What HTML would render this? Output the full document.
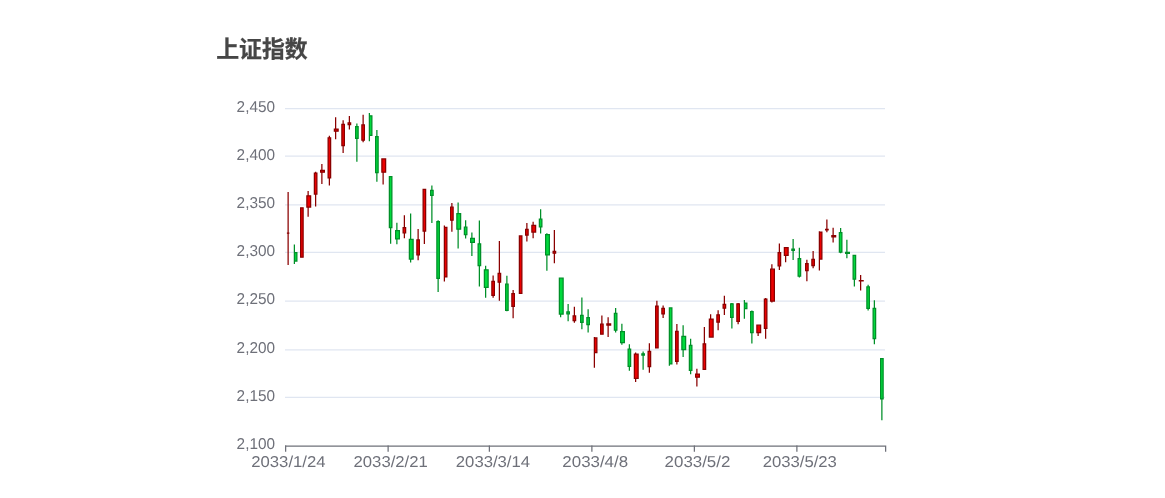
<!DOCTYPE html>
<html lang="zh"><head><meta charset="utf-8"><title>上证指数</title>
<style>
html,body{margin:0;padding:0;background:#fff;}
body{width:1165px;height:498px;overflow:hidden;position:relative;}
svg{position:absolute;left:0;top:0;display:block;}
.lb{font-family:"Liberation Sans","Noto Sans CJK SC",sans-serif;font-size:12.6px;text-rendering:geometricPrecision;fill:#6E7079;}
.tt{font-family:"Liberation Sans","Noto Sans CJK SC",sans-serif;font-size:18.3px;font-weight:bold;fill:#464646;stroke:#464646;stroke-width:0.2px;}
</style></head><body>
<svg width="1165" height="498" viewBox="0 0 1165 498">
<g transform="translate(210 33) scale(1.25)">
<line x1="60" x2="540" y1="291.5" y2="291.5" stroke="#E0E6F1" stroke-width="1"/>
<line x1="60" x2="540" y1="253.5" y2="253.5" stroke="#E0E6F1" stroke-width="1"/>
<line x1="60" x2="540" y1="214.5" y2="214.5" stroke="#E0E6F1" stroke-width="1"/>
<line x1="60" x2="540" y1="175.5" y2="175.5" stroke="#E0E6F1" stroke-width="1"/>
<line x1="60" x2="540" y1="137.5" y2="137.5" stroke="#E0E6F1" stroke-width="1"/>
<line x1="60" x2="540" y1="98.5" y2="98.5" stroke="#E0E6F1" stroke-width="1"/>
<line x1="60" x2="540" y1="60.5" y2="60.5" stroke="#E0E6F1" stroke-width="1"/>
<path d="M61.5 160.085L63.5 160.085L63.5 160.085L61.5 160.085ZM62.5 127.161L62.5 160.085M62.5 185.511L62.5 160.085" fill="#ec0000" stroke="#8A0000" stroke-width="1"/>
<path d="M67.5 175.714L69.5 175.714L69.5 182.426L67.5 182.426ZM67.5 169.25L67.5 175.714M67.5 184.771L67.5 182.426" fill="#00da3c" stroke="#008F28" stroke-width="1"/>
<path d="M72.5 139.843L74.5 139.843L74.5 179.301L72.5 179.301ZM73.5 139.519L73.5 139.843M73.5 179.301L73.5 179.301" fill="#ec0000" stroke="#8A0000" stroke-width="1"/>
<path d="M77.5 130.215L80.5 130.215L80.5 139.287L77.5 139.287ZM78.5 126.497L78.5 130.215M78.5 146.901L78.5 139.287" fill="#ec0000" stroke="#8A0000" stroke-width="1"/>
<path d="M83.5 112.087L85.5 112.087L85.5 128.85L83.5 128.85ZM84.5 111.099L84.5 112.087M84.5 138.771L84.5 128.85" fill="#ec0000" stroke="#8A0000" stroke-width="1"/>
<path d="M88.5 109.819L91.5 109.819L91.5 111.354L88.5 111.354ZM89.5 104.882L89.5 109.819M89.5 120.765L89.5 111.354" fill="#ec0000" stroke="#8A0000" stroke-width="1"/>
<path d="M94.5 83.899L96.5 83.899L96.5 115.998L94.5 115.998ZM95.5 82.256L95.5 83.899M95.5 122.046L95.5 115.998" fill="#ec0000" stroke="#8A0000" stroke-width="1"/>
<path d="M99.5 76.856L102.5 76.856L102.5 78.576L99.5 78.576ZM100.5 67.421L100.5 76.856M100.5 85.01L100.5 78.576" fill="#ec0000" stroke="#8A0000" stroke-width="1"/>
<path d="M105.5 73.014L107.5 73.014L107.5 90.086L105.5 90.086ZM106.5 69.705L106.5 73.014M106.5 96.026L106.5 90.086" fill="#ec0000" stroke="#8A0000" stroke-width="1"/>
<path d="M110.5 71.973L112.5 71.973L112.5 73.361L110.5 73.361ZM111.5 66.38L111.5 71.973M111.5 77.203L111.5 73.361" fill="#ec0000" stroke="#8A0000" stroke-width="1"/>
<path d="M116.5 74.896L118.5 74.896L118.5 84.277L116.5 84.277ZM117.5 72.428L117.5 74.896M117.5 103.03L117.5 84.277" fill="#00da3c" stroke="#008F28" stroke-width="1"/>
<path d="M121.5 73.577L123.5 73.577L123.5 85.75L121.5 85.75ZM122.5 65.377L122.5 73.577M122.5 87.463L122.5 85.75" fill="#ec0000" stroke="#8A0000" stroke-width="1"/>
<path d="M127.5 66.241L129.5 66.241L129.5 81.939L127.5 81.939ZM127.5 64.011L127.5 66.241M127.5 86.668L127.5 81.939" fill="#00da3c" stroke="#008F28" stroke-width="1"/>
<path d="M132.5 82.942L134.5 82.942L134.5 111.755L132.5 111.755ZM133.5 77.689L133.5 82.942M133.5 118.991L133.5 111.755" fill="#00da3c" stroke="#008F28" stroke-width="1"/>
<path d="M137.5 100.747L140.5 100.747L140.5 111.308L137.5 111.308ZM138.5 100.161L138.5 100.747M138.5 121.244L138.5 111.308" fill="#ec0000" stroke="#8A0000" stroke-width="1"/>
<path d="M143.5 114.91L145.5 114.91L145.5 155.696L143.5 155.696ZM144.5 114.91L144.5 114.91M144.5 168.64L144.5 155.696" fill="#00da3c" stroke="#008F28" stroke-width="1"/>
<path d="M148.5 158.018L151.5 158.018L151.5 164.791L148.5 164.791ZM149.5 151.893L149.5 158.018M149.5 168.957L149.5 164.791" fill="#00da3c" stroke="#008F28" stroke-width="1"/>
<path d="M154.5 155.796L156.5 155.796L156.5 159.807L154.5 159.807ZM155.5 145.798L155.5 155.796M155.5 164.135L155.5 159.807" fill="#ec0000" stroke="#8A0000" stroke-width="1"/>
<path d="M159.5 165.115L162.5 165.115L162.5 180.852L159.5 180.852ZM160.5 144.309L160.5 165.115M160.5 183.513L160.5 180.852" fill="#00da3c" stroke="#008F28" stroke-width="1"/>
<path d="M165.5 165.516L167.5 165.516L167.5 177.435L165.5 177.435ZM166.5 156.714L166.5 165.516M166.5 181.863L166.5 177.435" fill="#ec0000" stroke="#8A0000" stroke-width="1"/>
<path d="M170.5 125.116L172.5 125.116L172.5 158.496L170.5 158.496ZM171.5 124.677L171.5 125.116M171.5 168.833L171.5 158.496" fill="#ec0000" stroke="#8A0000" stroke-width="1"/>
<path d="M176.5 125.926L178.5 125.926L178.5 129.807L176.5 129.807ZM177.5 121.984L177.5 125.926M177.5 151.908L177.5 129.807" fill="#00da3c" stroke="#008F28" stroke-width="1"/>
<path d="M181.5 150.967L183.5 150.967L183.5 196.234L181.5 196.234ZM182.5 149.841L182.5 150.967M182.5 207.15L182.5 196.234" fill="#00da3c" stroke="#008F28" stroke-width="1"/>
<path d="M187.5 155.418L189.5 155.418L189.5 195.147L187.5 195.147ZM187.5 154.006L187.5 155.418M187.5 198.78L187.5 195.147" fill="#ec0000" stroke="#8A0000" stroke-width="1"/>
<path d="M192.5 139.318L194.5 139.318L194.5 149.787L192.5 149.787ZM193.5 136.032L193.5 139.318M193.5 159.051L193.5 149.787" fill="#ec0000" stroke="#8A0000" stroke-width="1"/>
<path d="M197.5 144.518L200.5 144.518L200.5 156.976L197.5 156.976ZM198.5 135.585L198.5 144.518M198.5 172.42L198.5 156.976" fill="#00da3c" stroke="#008F28" stroke-width="1"/>
<path d="M203.5 155.333L205.5 155.333L205.5 161.358L203.5 161.358ZM204.5 149.74L204.5 155.333M204.5 164.459L204.5 161.358" fill="#00da3c" stroke="#008F28" stroke-width="1"/>
<path d="M208.5 164.39L211.5 164.39L211.5 167.545L208.5 167.545ZM209.5 159.545L209.5 164.39M209.5 178.353L209.5 167.545" fill="#00da3c" stroke="#008F28" stroke-width="1"/>
<path d="M214.5 168.648L216.5 168.648L216.5 186.051L214.5 186.051ZM215.5 150.033L215.5 168.648M215.5 202.845L215.5 186.051" fill="#00da3c" stroke="#008F28" stroke-width="1"/>
<path d="M219.5 189.469L222.5 189.469L222.5 203.509L219.5 203.509ZM220.5 186.26L220.5 189.469M220.5 211.779L220.5 203.509" fill="#00da3c" stroke="#008F28" stroke-width="1"/>
<path d="M225.5 198.641L227.5 198.641L227.5 209.835L225.5 209.835ZM226.5 194.059L226.5 198.641M226.5 211.732L226.5 209.835" fill="#ec0000" stroke="#8A0000" stroke-width="1"/>
<path d="M230.5 192.377L232.5 192.377L232.5 199.389L230.5 199.389ZM231.5 166.395L231.5 192.377M231.5 214.286L231.5 199.389" fill="#ec0000" stroke="#8A0000" stroke-width="1"/>
<path d="M236.5 200.948L238.5 200.948L238.5 221.985L236.5 221.985ZM237.5 194.19L237.5 200.948M237.5 222.609L237.5 221.985" fill="#00da3c" stroke="#008F28" stroke-width="1"/>
<path d="M241.5 208.554L243.5 208.554L243.5 218.714L241.5 218.714ZM242.5 205.561L242.5 208.554M242.5 228.156L242.5 218.714" fill="#ec0000" stroke="#8A0000" stroke-width="1"/>
<path d="M247.5 162.315L249.5 162.315L249.5 208.315L247.5 208.315ZM247.5 161.937L247.5 162.315M247.5 208.562L247.5 208.315" fill="#ec0000" stroke="#8A0000" stroke-width="1"/>
<path d="M252.5 157.015L254.5 157.015L254.5 161.667L252.5 161.667ZM253.5 151.947L253.5 157.015M253.5 166.766L253.5 161.667" fill="#ec0000" stroke="#8A0000" stroke-width="1"/>
<path d="M257.5 153.898L260.5 153.898L260.5 159.206L257.5 159.206ZM258.5 151.029L258.5 153.898M258.5 164.166L258.5 159.206" fill="#ec0000" stroke="#8A0000" stroke-width="1"/>
<path d="M263.5 148.915L265.5 148.915L265.5 155.102L263.5 155.102ZM264.5 141.085L264.5 148.915M264.5 160.355L264.5 155.102" fill="#00da3c" stroke="#008F28" stroke-width="1"/>
<path d="M268.5 161.381L271.5 161.381L271.5 177.512L268.5 177.512ZM269.5 160.293L269.5 161.381M269.5 190.279L269.5 177.512" fill="#00da3c" stroke="#008F28" stroke-width="1"/>
<path d="M274.5 174.742L276.5 174.742L276.5 176.193L274.5 176.193ZM275.5 157.601L275.5 174.742M275.5 184.2L275.5 176.193" fill="#ec0000" stroke="#8A0000" stroke-width="1"/>
<path d="M279.5 196.119L282.5 196.119L282.5 224.854L279.5 224.854ZM280.5 196.119L280.5 196.119M280.5 227.469L280.5 224.854" fill="#00da3c" stroke="#008F28" stroke-width="1"/>
<path d="M285.5 223.165L287.5 223.165L287.5 224.607L285.5 224.607ZM286.5 216.7L286.5 223.165M286.5 230.632L286.5 224.607" fill="#00da3c" stroke="#008F28" stroke-width="1"/>
<path d="M290.5 226.32L292.5 226.32L292.5 230.131L290.5 230.131ZM291.5 218.953L291.5 226.32M291.5 231.789L291.5 230.131" fill="#ec0000" stroke="#8A0000" stroke-width="1"/>
<path d="M296.5 225.934L298.5 225.934L298.5 231.458L296.5 231.458ZM297.5 211.647L297.5 225.934M297.5 237.089L297.5 231.458" fill="#00da3c" stroke="#008F28" stroke-width="1"/>
<path d="M301.5 227.639L303.5 227.639L303.5 233.348L301.5 233.348ZM302.5 220.966L302.5 227.639M302.5 239.55L302.5 233.348" fill="#00da3c" stroke="#008F28" stroke-width="1"/>
<path d="M307.5 243.916L309.5 243.916L309.5 255.758L307.5 255.758ZM307.5 243.145L307.5 243.916M307.5 267.769L307.5 255.758" fill="#ec0000" stroke="#8A0000" stroke-width="1"/>
<path d="M312.5 232.977L314.5 232.977L314.5 240.923L312.5 240.923ZM313.5 226.065L313.5 232.977M313.5 240.923L313.5 240.923" fill="#ec0000" stroke="#8A0000" stroke-width="1"/>
<path d="M317.5 232.7L320.5 232.7L320.5 233.625L317.5 233.625ZM318.5 227.369L318.5 232.7M318.5 243.168L318.5 233.625" fill="#ec0000" stroke="#8A0000" stroke-width="1"/>
<path d="M323.5 224.33L325.5 224.33L325.5 237.776L323.5 237.776ZM324.5 220.087L324.5 224.33M324.5 239.542L324.5 237.776" fill="#00da3c" stroke="#008F28" stroke-width="1"/>
<path d="M328.5 238.902L331.5 238.902L331.5 247.627L328.5 247.627ZM329.5 232.599L329.5 238.902M329.5 249.432L329.5 247.627" fill="#00da3c" stroke="#008F28" stroke-width="1"/>
<path d="M334.5 252.927L336.5 252.927L336.5 266.789L334.5 266.789ZM335.5 249.008L335.5 252.927M335.5 270.299L335.5 266.789" fill="#00da3c" stroke="#008F28" stroke-width="1"/>
<path d="M339.5 256.83L342.5 256.83L342.5 276.285L339.5 276.285ZM340.5 255.611L340.5 256.83M340.5 279.255L340.5 276.285" fill="#ec0000" stroke="#8A0000" stroke-width="1"/>
<path d="M345.5 256.691L347.5 256.691L347.5 257.64L345.5 257.64ZM346.5 254.778L346.5 256.691M346.5 269.466L346.5 257.64" fill="#00da3c" stroke="#008F28" stroke-width="1"/>
<path d="M350.5 254.709L352.5 254.709L352.5 266.882L350.5 266.882ZM351.5 248.205L351.5 254.709M351.5 271.803L351.5 266.882" fill="#ec0000" stroke="#8A0000" stroke-width="1"/>
<path d="M356.5 218.421L358.5 218.421L358.5 251.993L356.5 251.993ZM357.5 214.201L357.5 218.421M357.5 252.41L357.5 251.993" fill="#ec0000" stroke="#8A0000" stroke-width="1"/>
<path d="M361.5 220.326L363.5 220.326L363.5 224.777L361.5 224.777ZM362.5 218.05L362.5 220.326M362.5 227.971L362.5 224.777" fill="#ec0000" stroke="#8A0000" stroke-width="1"/>
<path d="M367.5 219.979L369.5 219.979L369.5 264.783L367.5 264.783ZM367.5 219.979L367.5 219.979M367.5 266.118L367.5 264.783" fill="#00da3c" stroke="#008F28" stroke-width="1"/>
<path d="M372.5 238.725L374.5 238.725L374.5 262.616L372.5 262.616ZM373.5 232.707L373.5 238.725M373.5 265.115L373.5 262.616" fill="#ec0000" stroke="#8A0000" stroke-width="1"/>
<path d="M377.5 242.682L380.5 242.682L380.5 253.389L377.5 253.389ZM378.5 233.857L378.5 242.682M378.5 259.144L378.5 253.389" fill="#00da3c" stroke="#008F28" stroke-width="1"/>
<path d="M383.5 249.856L385.5 249.856L385.5 269.898L383.5 269.898ZM384.5 244.695L384.5 249.856M384.5 273.022L384.5 269.898" fill="#00da3c" stroke="#008F28" stroke-width="1"/>
<path d="M388.5 272.822L391.5 272.822L391.5 275.398L388.5 275.398ZM389.5 268.556L389.5 272.822M389.5 282.835L389.5 275.398" fill="#ec0000" stroke="#8A0000" stroke-width="1"/>
<path d="M394.5 248.614L396.5 248.614L396.5 269.019L394.5 269.019ZM395.5 235.261L395.5 248.614M395.5 269.019L395.5 269.019" fill="#ec0000" stroke="#8A0000" stroke-width="1"/>
<path d="M399.5 228.812L402.5 228.812L402.5 243.214L399.5 243.214ZM400.5 225.032L400.5 228.812M400.5 243.214L400.5 243.214" fill="#ec0000" stroke="#8A0000" stroke-width="1"/>
<path d="M405.5 225.417L407.5 225.417L407.5 231.365L405.5 231.365ZM406.5 221.799L406.5 225.417M406.5 237.861L406.5 231.365" fill="#ec0000" stroke="#8A0000" stroke-width="1"/>
<path d="M410.5 217.14L412.5 217.14L412.5 220.156L410.5 220.156ZM411.5 210.267L411.5 217.14M411.5 225.533L411.5 220.156" fill="#ec0000" stroke="#8A0000" stroke-width="1"/>
<path d="M416.5 216.631L418.5 216.631L418.5 227.423L416.5 227.423ZM417.5 215.937L417.5 216.631M417.5 236.364L417.5 227.423" fill="#00da3c" stroke="#008F28" stroke-width="1"/>
<path d="M421.5 216.731L423.5 216.731L423.5 230.625L421.5 230.625ZM422.5 216.083L422.5 216.731M422.5 232.947L422.5 230.625" fill="#ec0000" stroke="#8A0000" stroke-width="1"/>
<path d="M427.5 216.075L429.5 216.075L429.5 220.519L427.5 220.519ZM427.5 213.63L427.5 216.075M427.5 228.665L427.5 220.519" fill="#00da3c" stroke="#008F28" stroke-width="1"/>
<path d="M432.5 222.849L434.5 222.849L434.5 239.735L432.5 239.735ZM433.5 222.054L433.5 222.849M433.5 248.329L433.5 239.735" fill="#00da3c" stroke="#008F28" stroke-width="1"/>
<path d="M437.5 233.726L440.5 233.726L440.5 239.673L437.5 239.673ZM438.5 233.425L438.5 233.726M438.5 242.381L438.5 239.673" fill="#ec0000" stroke="#8A0000" stroke-width="1"/>
<path d="M443.5 212.889L445.5 212.889L445.5 236.395L443.5 236.395ZM444.5 212.072L444.5 212.889M444.5 244.549L444.5 236.395" fill="#ec0000" stroke="#8A0000" stroke-width="1"/>
<path d="M448.5 188.929L451.5 188.929L451.5 214.432L448.5 214.432ZM449.5 184.902L449.5 188.929M449.5 215.512L449.5 214.432" fill="#ec0000" stroke="#8A0000" stroke-width="1"/>
<path d="M454.5 175.722L456.5 175.722L456.5 186.26L454.5 186.26ZM455.5 168.471L455.5 175.722M455.5 189.677L455.5 186.26" fill="#ec0000" stroke="#8A0000" stroke-width="1"/>
<path d="M459.5 171.772L462.5 171.772L462.5 177.944L459.5 177.944ZM460.5 171.626L460.5 171.772M460.5 183.336L460.5 177.944" fill="#ec0000" stroke="#8A0000" stroke-width="1"/>
<path d="M465.5 172.821L467.5 172.821L467.5 173.863L465.5 173.863ZM466.5 164.775L466.5 172.821M466.5 181.554L466.5 173.863" fill="#00da3c" stroke="#008F28" stroke-width="1"/>
<path d="M470.5 180.489L472.5 180.489L472.5 194.483L470.5 194.483ZM471.5 171.896L471.5 180.489M471.5 195.694L471.5 194.483" fill="#00da3c" stroke="#008F28" stroke-width="1"/>
<path d="M476.5 184.563L478.5 184.563L478.5 190.024L476.5 190.024ZM477.5 181.431L477.5 184.563M477.5 198.664L477.5 190.024" fill="#ec0000" stroke="#8A0000" stroke-width="1"/>
<path d="M481.5 181.053L483.5 181.053L483.5 186.005L481.5 186.005ZM482.5 174.403L482.5 181.053M482.5 188.103L482.5 186.005" fill="#ec0000" stroke="#8A0000" stroke-width="1"/>
<path d="M487.5 159.267L489.5 159.267L489.5 180.806L487.5 180.806ZM487.5 158.666L487.5 159.267M487.5 190.009L487.5 180.806" fill="#ec0000" stroke="#8A0000" stroke-width="1"/>
<path d="M492.5 157.185L494.5 157.185L494.5 157.555L492.5 157.555ZM493.5 149.231L493.5 157.185M493.5 159.383L493.5 157.555" fill="#ec0000" stroke="#8A0000" stroke-width="1"/>
<path d="M497.5 162.021L500.5 162.021L500.5 163.179L497.5 163.179ZM498.5 155.873L498.5 162.021M498.5 167.622L498.5 163.179" fill="#ec0000" stroke="#8A0000" stroke-width="1"/>
<path d="M503.5 159.715L505.5 159.715L505.5 175.259L503.5 175.259ZM504.5 156.02L504.5 159.715M504.5 176.2L504.5 175.259" fill="#00da3c" stroke="#008F28" stroke-width="1"/>
<path d="M508.5 175.552L511.5 175.552L511.5 176.293L508.5 176.293ZM509.5 165.354L509.5 175.552M509.5 180.258L509.5 176.293" fill="#00da3c" stroke="#008F28" stroke-width="1"/>
<path d="M514.5 177.951L516.5 177.951L516.5 196.99L514.5 196.99ZM515.5 177.951L515.5 177.951M515.5 202.899L515.5 196.99" fill="#00da3c" stroke="#008F28" stroke-width="1"/>
<path d="M519.5 198.14L522.5 198.14L522.5 198.309L519.5 198.309ZM520.5 193.565L520.5 198.14M520.5 205.9L520.5 198.309" fill="#ec0000" stroke="#8A0000" stroke-width="1"/>
<path d="M525.5 203.154L527.5 203.154L527.5 220.372L525.5 220.372ZM526.5 201.411L526.5 203.154M526.5 221.946L526.5 220.372" fill="#00da3c" stroke="#008F28" stroke-width="1"/>
<path d="M530.5 220.257L532.5 220.257L532.5 244.449L530.5 244.449ZM531.5 213.8L531.5 220.257M531.5 248.946L531.5 244.449" fill="#00da3c" stroke="#008F28" stroke-width="1"/>
<path d="M536.5 260.494L538.5 260.494L538.5 292.701L536.5 292.701ZM537.5 260.494L537.5 260.494M537.5 309.773L537.5 292.701" fill="#00da3c" stroke="#008F28" stroke-width="1"/>
<line x1="60" x2="540" y1="330.5" y2="330.5" stroke="#6E7079" stroke-width="1"/>
<line x1="60.5" x2="60.5" y1="330" y2="335" stroke="#6E7079" stroke-width="1"/>
<line x1="142.5" x2="142.5" y1="330" y2="335" stroke="#6E7079" stroke-width="1"/>
<line x1="223.5" x2="223.5" y1="330" y2="335" stroke="#6E7079" stroke-width="1"/>
<line x1="305.5" x2="305.5" y1="330" y2="335" stroke="#6E7079" stroke-width="1"/>
<line x1="387.5" x2="387.5" y1="330" y2="335" stroke="#6E7079" stroke-width="1"/>
<line x1="469.5" x2="469.5" y1="330" y2="335" stroke="#6E7079" stroke-width="1"/>
<line x1="540.5" x2="540.5" y1="330" y2="335" stroke="#6E7079" stroke-width="1"/>
<text x="62.727" y="346.88" text-anchor="middle" textLength="59.4" lengthAdjust="spacingAndGlyphs" class="lb">2033/1/24</text>
<text x="144.545" y="346.88" text-anchor="middle" textLength="59.4" lengthAdjust="spacingAndGlyphs" class="lb">2033/2/21</text>
<text x="226.364" y="346.88" text-anchor="middle" textLength="59.4" lengthAdjust="spacingAndGlyphs" class="lb">2033/3/14</text>
<text x="308.182" y="346.88" text-anchor="middle" textLength="52.6" lengthAdjust="spacingAndGlyphs" class="lb">2033/4/8</text>
<text x="390" y="346.88" text-anchor="middle" textLength="52.6" lengthAdjust="spacingAndGlyphs" class="lb">2033/5/2</text>
<text x="471.818" y="346.88" text-anchor="middle" textLength="59.4" lengthAdjust="spacingAndGlyphs" class="lb">2033/5/23</text>
<text x="52" y="332.9" text-anchor="end" textLength="30.7" lengthAdjust="spacingAndGlyphs" class="lb">2,100</text>
<text x="52" y="294.329" text-anchor="end" textLength="30.7" lengthAdjust="spacingAndGlyphs" class="lb">2,150</text>
<text x="52" y="255.757" text-anchor="end" textLength="30.7" lengthAdjust="spacingAndGlyphs" class="lb">2,200</text>
<text x="52" y="217.186" text-anchor="end" textLength="30.7" lengthAdjust="spacingAndGlyphs" class="lb">2,250</text>
<text x="52" y="178.614" text-anchor="end" textLength="30.7" lengthAdjust="spacingAndGlyphs" class="lb">2,300</text>
<text x="52" y="140.043" text-anchor="end" textLength="30.7" lengthAdjust="spacingAndGlyphs" class="lb">2,350</text>
<text x="52" y="101.471" text-anchor="end" textLength="30.7" lengthAdjust="spacingAndGlyphs" class="lb">2,400</text>
<text x="52" y="62.9" text-anchor="end" textLength="30.7" lengthAdjust="spacingAndGlyphs" class="lb">2,450</text>
<text x="5" y="18.88" class="tt">上证指数</text>
</g></svg>
</body></html>
